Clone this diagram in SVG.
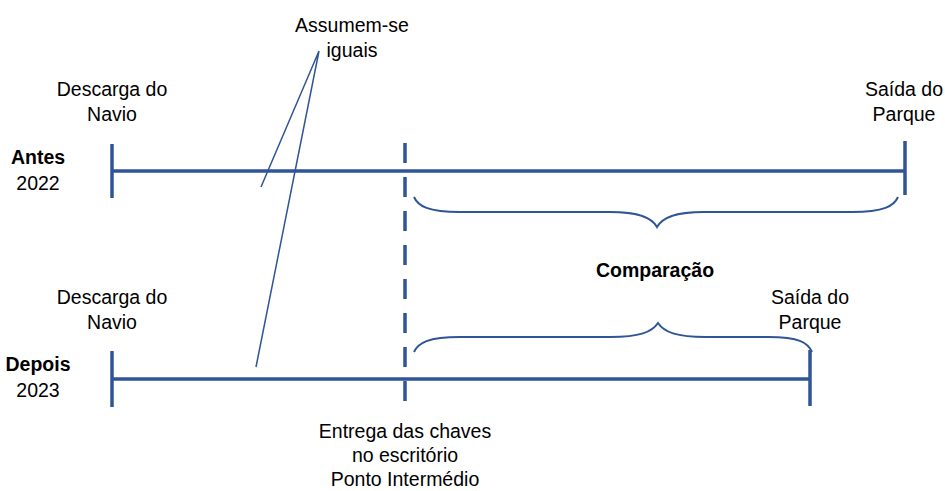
<svg xmlns="http://www.w3.org/2000/svg" width="945" height="491" viewBox="0 0 945 491">
<style>
text{font-family:"Liberation Sans",Arial,sans-serif;font-size:19.5px;fill:#000;text-anchor:middle}
.b{font-weight:bold}
.axis{stroke:#2F5597;stroke-width:3.5;fill:none}
.dash{stroke:#2F5597;stroke-width:3.5;stroke-dasharray:20,14;fill:none}
.brace{stroke:#2F5597;stroke-width:2;fill:none}
.call{stroke:#2F5597;stroke-width:1.5;fill:none}
</style>
<rect width="945" height="491" fill="#fff"/>
<g id="connectors">
<path class="axis" d="M112 171H905M112 144V198M905 141V195"/>
<path class="axis" d="M112 379H810M112 351V407M810 350V406"/>
<path class="dash" d="M405 143V405"/>
<path class="brace" d="M414 197C418 206 428 212 460 212H610C640 212 652 218 657 227C662 218 674 212 704 212H852C884 212 894 206 898 197"/>
<path class="brace" d="M414 352C418 343 428 337 460 337H610C640 337 652 332 658 323C664 332 676 337 706 337H768C800 337 808 343 812 352"/>
<path class="call" d="M261 187L319 51L256 367"/>
</g>
<g id="antes"><text class="b" x="38" y="164">Antes</text><text x="38" y="190">2022</text></g>
<g id="depois"><text class="b" x="38" y="371">Depois</text><text x="38" y="397">2023</text></g>
<g id="descarga-antes"><text x="112" y="96">Descarga do</text><text x="112" y="121">Navio</text></g>
<g id="saida-antes"><text x="904" y="96">Saída do</text><text x="904" y="121">Parque</text></g>
<g id="descarga-depois"><text x="112" y="304">Descarga do</text><text x="112" y="329">Navio</text></g>
<g id="saida-depois"><text x="810" y="304">Saída do</text><text x="810" y="329">Parque</text></g>
<g id="assumem"><text x="352" y="32">Assumem-se</text><text x="352" y="57">iguais</text></g>
<g id="comparacao"><text class="b" x="655" y="277">Comparação</text></g>
<g id="entrega"><text x="405" y="438">Entrega das chaves</text><text x="405" y="462">no escritório</text><text x="405" y="486">Ponto Intermédio</text></g>
</svg>
